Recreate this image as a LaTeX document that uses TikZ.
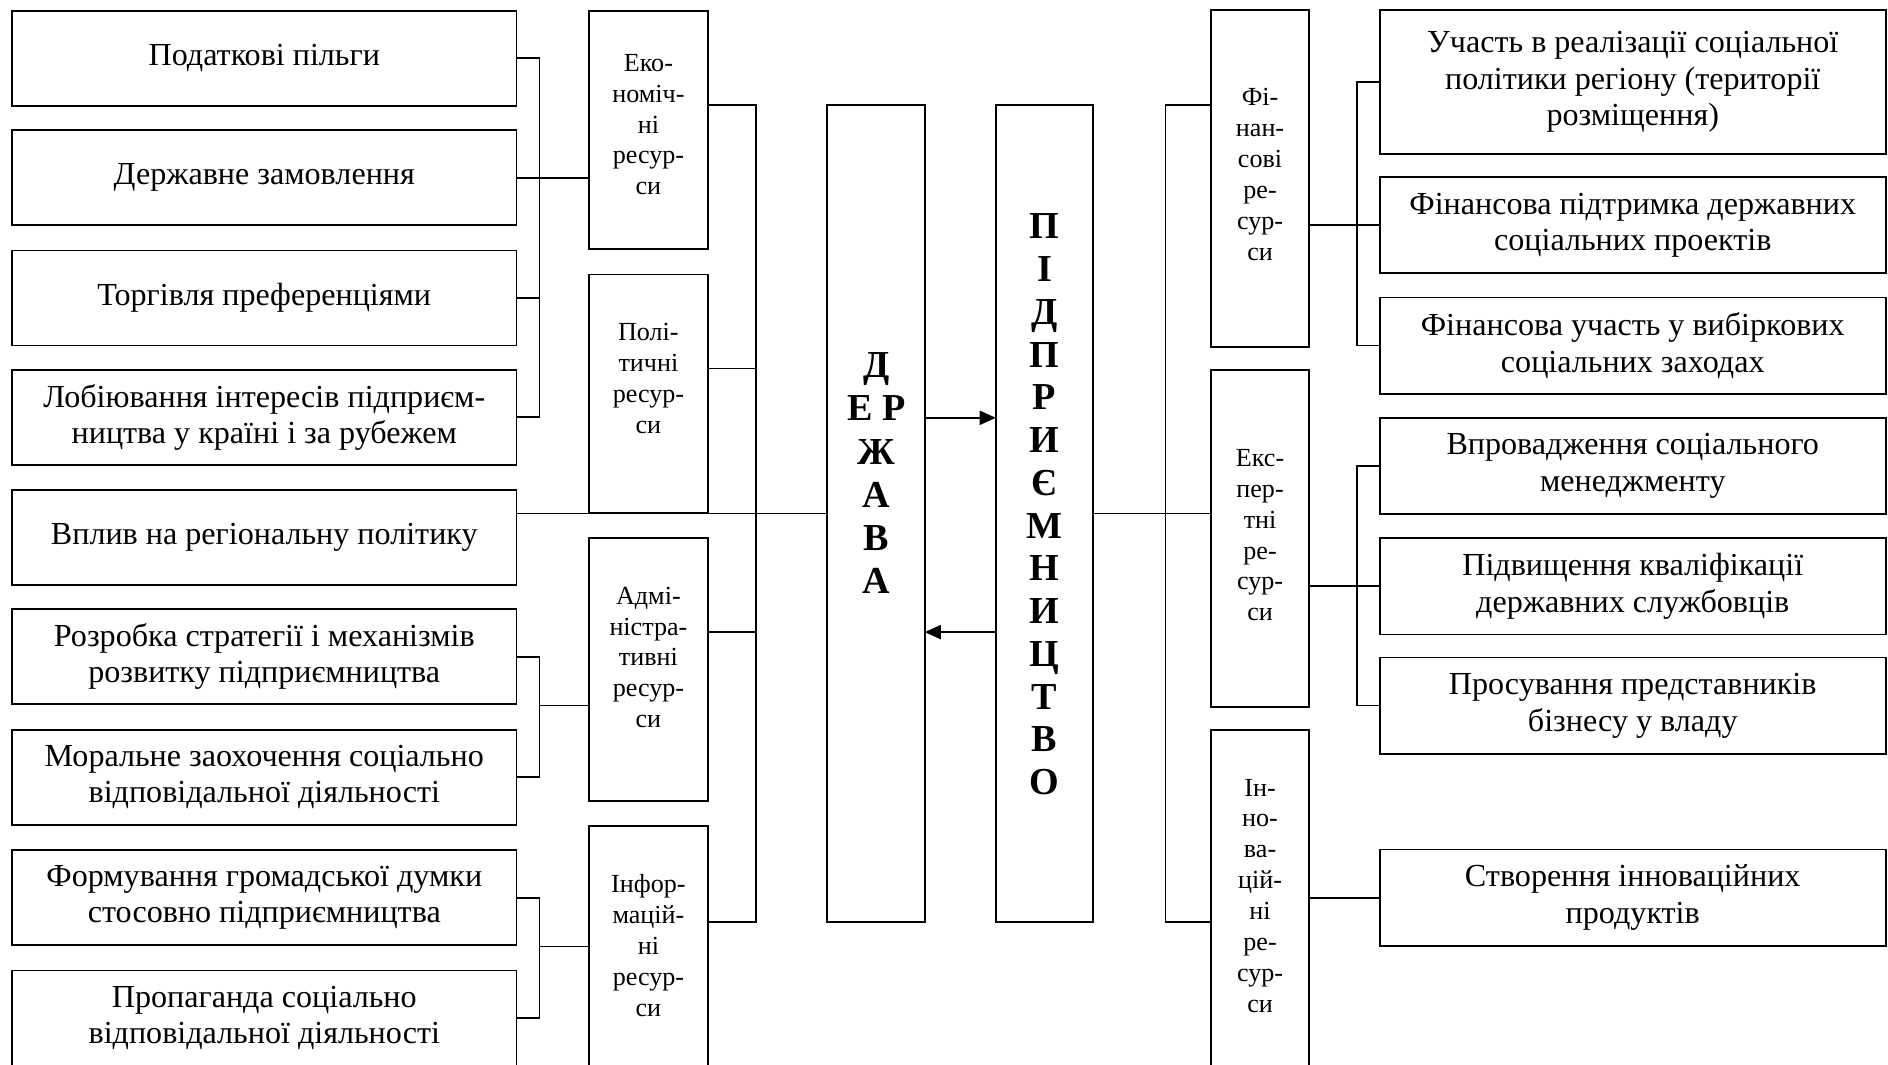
\documentclass[tikz,border=0pt]{standalone}
\usepackage{fontspec}
\setmainfont{Liberation Serif}
\usetikzlibrary{arrows.meta}
\begin{document}
\begin{tikzpicture}[x=0.6pt,y=-0.6pt, line width=0.9pt,
  every node/.style={inner sep=0pt, outer sep=0pt},
  itembox/.style={draw, minimum width=251.4pt, minimum height=47.4pt, align=center, font=\fontsize{16}{18}\selectfont},
  ritembox/.style={draw, minimum width=252pt, minimum height=48pt, align=center, font=\fontsize{16}{18.3}\selectfont},
  lres/.style={draw, minimum width=59.4pt},
  rres/.style={draw, minimum width=48.6pt, minimum height=168pt},
  restext/.style={align=center, font=\fontsize{13}{15.4}\selectfont},
  centbox/.style={draw, minimum width=48.6pt, minimum height=407.4pt},
  bigtext/.style={align=center, font=\fontsize{19}{21.5}\selectfont\bfseries},
  tip/.style={-{Triangle[length=8pt,width=7pt]}}
]
\useasboundingbox (0,0) rectangle (1568,884);
\clip (0,0) rectangle (1568,884);
\fill[white] (0,0) rectangle (1568,884);

% left item boxes
\node[itembox] (L1) at (219.5,48.5) {Податкові пільги};
\node[itembox] (L2) at (219.5,147.5) {Державне замовлення};
\node[itembox] (L3) at (219.5,247.5) {Торгівля преференціями};
\node[itembox] (L4) at (219.5,346.5) {Лобіювання інтересів підприєм-\\ництва у країні і за рубежем};
\node[itembox] (L5) at (219.5,446.5) {Вплив на регіональну політику};
\node[itembox] (L6) at (219.5,545.5) {Розробка стратегії і механізмів\\розвитку підприємництва};
\node[itembox] (L7) at (219.5,645.5) {Моральне заохочення соціально\\відповідальної діяльності};
\node[itembox] (L8) at (219.5,745.5) {Формування громадської думки\\стосовно підприємництва};
\node[itembox] (L9) at (219.5,845.5) {Пропаганда соціально\\відповідальної діяльності};

% left resource boxes
\node[lres, minimum height=118.8pt] (eko) at (538.5,108) {};
\node[restext] (ekot) at (538.5,103.5) {Еко-\\номіч-\\ні\\ресур-\\си};
\node[lres, minimum height=118.8pt] (poli) at (538.5,327) {};
\node[restext] (polit) at (538.5,314.5) {Полі-\\тичні\\ресур-\\си};
\node[lres, minimum height=130.8pt] (adm) at (538.5,556) {};
\node[restext] (admt) at (538.5,546) {Адмі-\\ністра-\\тивні\\ресур-\\си};
\node[lres, minimum height=120pt] (info) at (538.5,786) {};
\node[restext] (infot) at (538.5,785.5) {Інфор-\\мацій-\\ні\\ресур-\\си};

% central boxes
\node[centbox] (derzh) at (727.5,426.5) {};
\node[bigtext] (derzht) at (728,393) {Д\\Е Р\\Ж\\А\\В\\А};
\node[centbox] (pidpr) at (867.5,426.5) {};
\node[bigtext, font=\fontsize{19}{21.3}\selectfont\bfseries] (pidprt) at (867.5,419) {П\\І\\Д\\П\\Р\\И\\Є\\М\\Н\\И\\Ц\\Т\\В\\О};

% right resource boxes
\node[rres] (fin) at (1046.5,148) {};
\node[restext] (fint) at (1046.5,145) {Фі-\\нан-\\сові\\ре-\\сур-\\си};
\node[rres] (eks) at (1046.5,447) {};
\node[restext] (ekst) at (1046.5,444.5) {Екс-\\пер-\\тні\\ре-\\сур-\\си};
\node[rres] (inn) at (1046.5,746) {};
\node[restext] (innt) at (1046.5,744) {Ін-\\но-\\ва-\\цій-\\ні\\ре-\\сур-\\си};

% right item boxes
\node[ritembox, minimum height=72pt] (R1) at (1356,68) {Участь в реалізації соціальної\\політики регіону (території\\розміщення)};
\node[ritembox] (R2) at (1356,187) {Фінансова підтримка державних\\соціальних проектів};
\node[ritembox] (R3) at (1356,287) {Фінансова участь у вибіркових\\соціальних заходах};
\node[ritembox] (R4) at (1356,387) {Впровадження соціального\\менеджменту};
\node[ritembox] (R5) at (1356,487) {Підвищення кваліфікації\\державних службовців};
\node[ritembox] (R6) at (1356,586) {Просування представників\\бізнесу у владу};
\node[ritembox] (R7) at (1356,745.5) {Створення інноваційних\\продуктів};

% left group 1
\draw (L1.east) -- ++(19,0) coordinate (lb1) -- (lb1 |- L4.east) -- (L4.east);
\draw (L3.east) -- (lb1 |- L3.east);
\draw (L2.east) -- (eko.west |- L2.east);
% left group 3
\draw (L6.east) -- ++(19,0) coordinate (lb3) -- (lb3 |- L7.east) -- (L7.east);
\coordinate (a3) at (448,586);
\draw (a3) -- (adm.west |- a3);
% left group 4
\draw (L8.east) -- ++(19,0) coordinate (lb4) -- (lb4 |- L9.east) -- (L9.east);
\coordinate (a4) at (448,786);
\draw (a4) -- (info.west |- a4);

% left bus
\coordinate (lbus) at (628,0);
\draw (eko.east |- derzh.north) -- (lbus |- derzh.north) -- (lbus |- derzh.south) -- (info.east |- derzh.south);
\coordinate (ps) at (628,306);
\draw (poli.east |- ps) -- (ps);
\coordinate (as) at (628,525);
\draw (adm.east |- as) -- (as);
\draw (L5.east |- derzh.west) -- (derzh.west);

% arrows
\coordinate (ar1) at (768,347);
\coordinate (ar2) at (768,525);
\draw[tip] (derzh.east |- ar1) -- (pidpr.west |- ar1);
\draw[tip] (pidpr.west |- ar2) -- (derzh.east |- ar2);

% right bus
\coordinate (rbus) at (968,0);
\draw (fin.west |- pidpr.north) -- (rbus |- pidpr.north) -- (rbus |- pidpr.south) -- (inn.west |- pidpr.south);
\draw (pidpr.east) -- (eks.west |- pidpr.east);

% right groups
\draw (R1.west) -- ++(-19,0) coordinate (rb1) -- (rb1 |- R3.west) -- (R3.west);
\draw (fin.east |- R2.west) -- (R2.west);
\draw (R4.west) -- ++(-19,0) coordinate (rb2) -- (rb2 |- R6.west) -- (R6.west);
\draw (eks.east |- R5.west) -- (R5.west);
\draw (inn.east |- R7.west) -- (R7.west);
\end{tikzpicture}
\end{document}
